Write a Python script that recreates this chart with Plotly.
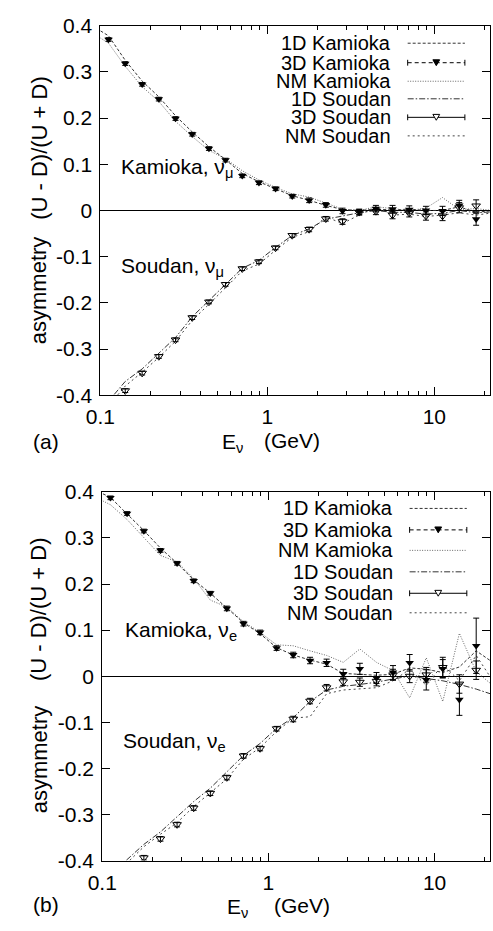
import plotly.graph_objects as go

W, H = 493, 931
FONT = "Liberation Sans"

# bin-centre energies (GeV); the 3D simulation points use the inner 23 bins,
# the 1D / NM curves run one bin past each end and are clipped by the axes
energy = [0.0891, 0.112, 0.141, 0.178, 0.224, 0.282, 0.355, 0.447, 0.562, 0.708, 0.891,
          1.12, 1.41, 1.78, 2.24, 2.82, 3.55, 4.47, 5.62, 7.08, 8.91, 11.2, 14.1, 17.8, 22.4]
energy_3d = energy[1:24]

# ---------------- (a) muon neutrinos ----------------
kam_1d_mu = [0.400, 0.378, 0.325, 0.280, 0.246, 0.205, 0.170, 0.138, 0.110, 0.080, 0.062, 0.047,
             0.032, 0.022, 0.011, 0.002, 0.000, 0.003, 0.001, 0.003, 0.000, 0.000, 0.008, -0.004, 0.000]
kam_nm_mu = [0.385, 0.362, 0.312, 0.268, 0.236, 0.193, 0.160, 0.130, 0.112, 0.086, 0.066, 0.050,
             0.036, 0.029, 0.016, 0.003, 0.000, 0.008, 0.004, 0.000, 0.005, 0.028, 0.002, 0.004, 0.000]
sou_1d_mu = [-0.455, -0.412, -0.370, -0.343, -0.309, -0.275, -0.230, -0.195, -0.158, -0.125, -0.108,
             -0.080, -0.054, -0.040, -0.019, -0.012, -0.005, 0.000, -0.004, -0.004, -0.008, -0.006,
             0.000, -0.005, -0.003]
sou_nm_mu = [-0.465, -0.422, -0.380, -0.350, -0.318, -0.283, -0.238, -0.203, -0.166, -0.131, -0.116,
             -0.086, -0.058, -0.046, -0.014, -0.028, -0.010, 0.008, -0.010, -0.008, -0.013, -0.010,
             -0.005, -0.010, -0.005]
kam_3d_mu = [0.370, 0.318, 0.273, 0.241, 0.199, 0.165, 0.134, 0.109, 0.075, 0.060, 0.047, 0.031,
             0.022, 0.012, -0.001, -0.003, 0.004, 0.003, 0.002, 0.000, -0.001, 0.011, -0.019]
kam_3d_mu_err = [0.004, 0.004, 0.004, 0.004, 0.004, 0.004, 0.004, 0.004, 0.004, 0.004, 0.004, 0.004,
                 0.005, 0.005, 0.006, 0.006, 0.007, 0.008, 0.008, 0.009, 0.010, 0.011, 0.013]
sou_3d_mu = [-0.430, -0.390, -0.352, -0.316, -0.280, -0.232, -0.198, -0.160, -0.126, -0.111, -0.081,
             -0.054, -0.041, -0.018, -0.024, -0.004, -0.002, -0.010, -0.006, -0.012, -0.012, 0.006, 0.010]
sou_3d_mu_err = [0.004, 0.004, 0.004, 0.004, 0.004, 0.004, 0.004, 0.004, 0.004, 0.004, 0.004, 0.004,
                 0.005, 0.005, 0.006, 0.006, 0.007, 0.008, 0.008, 0.009, 0.010, 0.011, 0.013]

# ---------------- (b) electron neutrinos ----------------
kam_1d_e = [0.405, 0.388, 0.352, 0.316, 0.278, 0.245, 0.209, 0.180, 0.148, 0.116, 0.092, 0.062,
            0.046, 0.035, 0.026, 0.006, 0.004, 0.002, 0.004, 0.018, 0.015, 0.008, 0.020, 0.055, 0.030]
kam_nm_e = [0.390, 0.372, 0.340, 0.300, 0.262, 0.248, 0.212, 0.165, 0.150, 0.118, 0.095, 0.068,
            0.066, 0.055, 0.045, 0.030, 0.059, 0.030, 0.012, -0.047, 0.040, -0.055, 0.093, 0.010, -0.020]
sou_1d_e = [-0.470, -0.432, -0.398, -0.365, -0.338, -0.305, -0.272, -0.243, -0.208, -0.172, -0.146,
            -0.113, -0.090, -0.055, -0.030, -0.022, -0.018, -0.013, -0.006, 0.000, -0.005, -0.010,
            -0.018, -0.028, -0.040]
sou_nm_e = [-0.475, -0.440, -0.405, -0.370, -0.343, -0.318, -0.283, -0.253, -0.223, -0.180, -0.155,
            -0.120, -0.091, -0.088, -0.038, -0.030, -0.028, -0.025, -0.010, 0.015, -0.020, 0.025,
            -0.010, 0.045, -0.010]
kam_3d_e = [0.387, 0.353, 0.315, 0.273, 0.245, 0.207, 0.180, 0.147, 0.114, 0.095, 0.061, 0.046,
            0.034, 0.029, 0.005, 0.016, -0.004, 0.008, 0.029, -0.008, 0.016, -0.051, 0.066]
kam_3d_e_err = [0.004, 0.004, 0.004, 0.004, 0.004, 0.004, 0.004, 0.005, 0.005, 0.005, 0.005, 0.006,
                0.007, 0.008, 0.010, 0.012, 0.012, 0.015, 0.018, 0.022, 0.020, 0.034, 0.060]
sou_3d_e = [-0.460, -0.430, -0.394, -0.353, -0.322, -0.286, -0.254, -0.220, -0.173, -0.157, -0.114,
            -0.093, -0.054, -0.025, -0.012, -0.013, -0.011, 0.003, 0.000, 0.003, 0.019, -0.017, 0.013]
sou_3d_e_err = [0.005, 0.005, 0.005, 0.005, 0.005, 0.005, 0.005, 0.005, 0.005, 0.005, 0.005, 0.006,
                0.006, 0.007, 0.008, 0.009, 0.010, 0.012, 0.014, 0.016, 0.022, 0.020, 0.020]

y_ticks = [-0.4, -0.3, -0.2, -0.1, 0.0, 0.1, 0.2, 0.3, 0.4]
y_tick_text = ["-0.4", "-0.3", "-0.2", "-0.1", "0", "0.1", "0.2", "0.3", "0.4"]
x_ticks = [0.1, 1, 10]
x_tick_text = ["0.1", "1", "10"]
x_minor = [0.2, 0.3, 0.4, 0.5, 0.6, 0.7, 0.8, 0.9, 2, 3, 4, 5, 6, 7, 8, 9, 20]

legend_names = ["1D Kamioka", "3D Kamioka", "NM Kamioka", "1D Soudan", "3D Soudan", "NM Soudan"]

STYLE = {
    "1D Kamioka": dict(color="#333333", dash="3px,2px"),
    "3D Kamioka": dict(color="#000000", dash="4px,3px"),
    "NM Kamioka": dict(color="#666666", dash="1px,1.5px"),
    "1D Soudan": dict(color="#333333", dash="6px,2px,1.5px,2px"),
    "3D Soudan": dict(color="#000000", dash="solid"),
    "NM Soudan": dict(color="#444444", dash="2px,3px"),
}


def px_x(x):
    return x / W


def px_y(y):
    return 1 - y / H


fig = go.Figure()

panels = [
    dict(xa="x", ya="y",
         lines=[("1D Kamioka", kam_1d_mu), ("NM Kamioka", kam_nm_mu),
                ("1D Soudan", sou_1d_mu), ("NM Soudan", sou_nm_mu)],
         kam=(kam_3d_mu, kam_3d_mu_err), sou=(sou_3d_mu, sou_3d_mu_err)),
    dict(xa="x2", ya="y2",
         lines=[("1D Kamioka", kam_1d_e), ("NM Kamioka", kam_nm_e),
                ("1D Soudan", sou_1d_e), ("NM Soudan", sou_nm_e)],
         kam=(kam_3d_e, kam_3d_e_err), sou=(sou_3d_e, sou_3d_e_err)),
]

for p in panels:
    for name, vals in p["lines"]:
        st = STYLE[name]
        fig.add_trace(go.Scatter(x=energy, y=vals, mode="lines", name=name,
                                 xaxis=p["xa"], yaxis=p["ya"],
                                 line=dict(color=st["color"], dash=st["dash"], width=1)))
    kv, ke = p["kam"]
    fig.add_trace(go.Scatter(x=energy_3d, y=kv, mode="markers", name="3D Kamioka",
                             xaxis=p["xa"], yaxis=p["ya"],
                             marker=dict(symbol="triangle-down", size=7.5, color="black"),
                             error_y=dict(type="data", array=ke, color="black",
                                          thickness=1, width=3)))
    sv, se = p["sou"]
    fig.add_trace(go.Scatter(x=energy_3d, y=sv, mode="markers", name="3D Soudan",
                             xaxis=p["xa"], yaxis=p["ya"],
                             marker=dict(symbol="triangle-down-open", size=7.5, color="black",
                                         line=dict(width=1)),
                             error_y=dict(type="data", array=se, color="black",
                                          thickness=1, width=3)))

# panel frames: (left, top, right, bottom) in pixels
frames = [(88, 14, 490, 393), (90, 492, 490, 870)]

axis_common = dict(showline=True, linecolor="black", linewidth=1, mirror="ticks",
                   ticks="inside", tickcolor="black", showgrid=False,
                   tickfont=dict(family=FONT, size=21, color="black"))

layout_axes = {}
for i, (l, t, r, b) in enumerate(frames):
    sfx = "" if i == 0 else "2"
    layout_axes["xaxis" + sfx] = dict(
        axis_common, type="log", range=[-1, 1.334],
        domain=[px_x(l), px_x(r)], anchor="y" + sfx,
        tickvals=x_ticks, ticktext=x_tick_text, ticklen=8, ticklabelstandoff=3,
        minor=dict(tickvals=x_minor, ticks="inside", ticklen=4, tickcolor="black",
                   showgrid=False))
    layout_axes["yaxis" + sfx] = dict(
        axis_common, range=[-0.4, 0.4],
        domain=[px_y(b), px_y(t)], anchor="x" + sfx,
        tickvals=y_ticks, ticktext=y_tick_text, ticklen=8, ticklabelstandoff=3,
        zeroline=True, zerolinecolor="black", zerolinewidth=1.3 if i == 0 else 0.8)

annotations = []
shapes = []


def text(s, x, y, xanchor="left", yanchor="middle", size=21, angle=0):
    annotations.append(dict(text=s, x=px_x(x), y=px_y(y), xref="paper", yref="paper",
                            xanchor=xanchor, yanchor=yanchor, showarrow=False,
                            textangle=angle,
                            font=dict(family=FONT, size=size, color="black")))


# legend blocks drawn in the upper-right corner of each panel
legend_rows = [
    dict(text_right=390, x0=405, x1=464, rows=[32, 52, 71, 89, 108, 127]),
    dict(text_right=392, x0=407, x1=466, rows=[509, 531, 552, 574, 596, 616]),
]
for lg in legend_rows:
    for name, yc in zip(legend_names, lg["rows"]):
        text(name, lg["text_right"], yc, xanchor="right", size=20)
        st = STYLE[name]
        shapes.append(dict(type="line", xref="paper", yref="paper",
                           x0=px_x(lg["x0"]), x1=px_x(lg["x1"]), y0=px_y(yc), y1=px_y(yc),
                           line=dict(color=st["color"], dash=st["dash"], width=1)))
        if name.startswith("3D"):
            for xe in (lg["x0"], lg["x1"]):
                shapes.append(dict(type="line", xref="paper", yref="paper",
                                   x0=px_x(xe), x1=px_x(xe), y0=px_y(yc - 3), y1=px_y(yc + 3),
                                   line=dict(color="black", width=1)))
            cx = (lg["x0"] + lg["x1"]) / 2
            path = "M {},{} L {},{} L {},{} Z".format(
                px_x(cx - 3.5), px_y(yc - 3), px_x(cx + 3.5), px_y(yc - 3), px_x(cx), px_y(yc + 3))
            filled = name == "3D Kamioka"
            shapes.append(dict(type="path", xref="paper", yref="paper", path=path,
                               fillcolor="black" if filled else "white",
                               line=dict(color="black", width=1)))

# curve labels
text("Kamioka, ν<sub>μ</sub>", 107, 160)
text("Soudan, ν<sub>μ</sub>", 107, 261)
text("Kamioka, ν<sub>e</sub>", 111, 635)
text("Soudan, ν<sub>e</sub>", 109, 748)

# axis titles
for (yc_ratio, yc_asym, y_e, x_e, x_gev, lab, y_lab) in [
        (139, 285, 439, 211, 255, "(a)", 440),
        (612, 766, 916, 217, 265, "(b)", 915)]:
    text("(U - D)/(U + D)", 25, yc_ratio, xanchor="center", angle=-90, size=22)
    text("asymmetry", 25, yc_asym, xanchor="center", angle=-90, size=22)
    text("E<sub>ν</sub>", x_e, y_e + 3)
    text("(GeV)", x_gev, y_e)
    text(lab, 16, y_lab)

fig.update_layout(
    width=W, height=H, margin=dict(l=0, r=0, t=0, b=0),
    paper_bgcolor="white", plot_bgcolor="white", showlegend=False,
    annotations=annotations, shapes=shapes, **layout_axes)

fig.write_html("out.html")
